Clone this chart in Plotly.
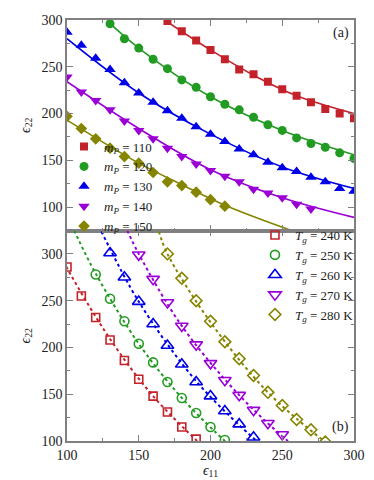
import plotly.graph_objects as go
from plotly.subplots import make_subplots

# ---------------- Panel (a): filled markers + solid fit lines ----------------
mp_labels = ["110", "120", "130", "140", "150"]

a110_x = [170, 180, 190, 200, 210, 220, 230, 240, 250, 260, 270, 280, 290, 300]
a110_y = [299, 288, 278, 268, 258, 247, 242, 234, 226, 219, 212, 205, 200, 195]
a120_x = [130, 140, 150, 160, 170, 180, 190, 200, 210, 220, 230, 240, 250, 260, 270, 280, 290, 300]
a120_y = [296, 280, 270, 258, 248, 236, 228, 218, 210, 204, 196, 188, 182, 174, 168, 164, 158, 152]
a130_x = [100, 110, 120, 130, 140, 150, 160, 170, 180, 190, 200, 210, 220, 230, 240, 250, 260, 270, 280, 290, 300]
a130_y = [287, 273, 259, 247, 233, 222, 212, 203, 195, 186, 178, 170, 162, 156, 148, 142, 138, 132, 127, 120, 117]
a140_x = [100, 110, 120, 130, 140, 150, 160, 170, 180, 190, 200, 210, 220, 230, 240, 250, 260, 270]
a140_y = [239, 223, 214, 204, 192, 182, 173, 163, 154, 146, 139, 133, 127, 119, 115, 110, 103, 98]
a150_x = [100, 110, 120, 130, 140, 150, 160, 170, 180, 190, 200, 210]
a150_y = [197, 184, 173, 163, 154, 147, 137, 127, 123, 116, 108, 101]

fa110_x = [168, 200, 230, 260, 300]
fa110_y = [300, 268, 241, 219, 200]
fa120_x = [128, 150, 200, 250, 300]
fa120_y = [299, 270, 218, 182, 156]
fa130_x = [100, 150, 200, 250, 300]
fa130_y = [280, 222, 178, 143, 120]
fa140_x = [100, 150, 200, 250, 300]
fa140_y = [234, 184, 140, 110, 89]
fa150_x = [100, 150, 180, 210, 260]
fa150_y = [193, 147, 124, 102, 73]

# ---------------- Panel (b): open markers + dotted fit lines ----------------
tg_labels = ["240", "250", "260", "270", "280"]

b240_x = [100, 110, 120, 130, 140, 150, 160, 170, 180, 190]
b240_y = [286, 255, 232, 208, 186, 166, 148, 131, 115, 102]
b250_x = [120, 130, 140, 150, 160, 170, 180, 190, 200, 210]
b250_y = [278, 252, 228, 204, 184, 163, 146, 130, 115, 101]
b260_x = [130, 140, 150, 160, 170, 180, 190, 200, 210, 220, 230]
b260_y = [301, 275, 249, 225, 202, 182, 163, 148, 132, 118, 104]
b270_x = [150, 160, 170, 180, 190, 200, 210, 220, 230, 240, 250]
b270_y = [299, 273, 248, 223, 203, 183, 165, 149, 133, 119, 107]
b280_x = [170, 180, 190, 200, 210, 220, 230, 240, 250, 260, 270, 280]
b280_y = [300, 274, 250, 228, 206, 188, 170, 152, 138, 123, 112, 99]

fb240_x = [96, 100, 130, 160, 190, 195]
fb240_y = [298, 285, 209, 148, 101, 94]
fb250_x = [105, 120, 150, 180, 210, 213]
fb250_y = [325, 279, 204, 146, 100, 96]
fb260_x = [124, 150, 190, 230, 235]
fb260_y = [324, 249, 164, 103, 97]
fb270_x = [142, 150, 180, 220, 254, 258]
fb270_y = [325, 300, 223, 149, 100, 96]
fb280_x = [164, 170, 200, 240, 280, 284]
fb280_y = [324, 300, 227, 152, 99, 95]

colors = ["#c4222b", "#229b22", "#0000e6", "#9a00d6", "#858500"]
fill_symbols = ["square", "circle", "triangle-up", "triangle-down", "diamond"]
fill_sizes = [8, 9, 10, 10, 9]
open_symbols = ["square-open", "circle-open", "triangle-up-open", "triangle-down-open", "diamond-open"]
open_sizes = [8, 9, 11, 11, 9]

a_pts = [(a110_x, a110_y), (a120_x, a120_y), (a130_x, a130_y), (a140_x, a140_y), (a150_x, a150_y)]
a_fit = [(fa110_x, fa110_y), (fa120_x, fa120_y), (fa130_x, fa130_y), (fa140_x, fa140_y), (fa150_x, fa150_y)]
b_pts = [(b240_x, b240_y), (b250_x, b250_y), (b260_x, b260_y), (b270_x, b270_y), (b280_x, b280_y)]
b_fit = [(fb240_x, fb240_y), (fb250_x, fb250_y), (fb260_x, fb260_y), (fb270_x, fb270_y), (fb280_x, fb280_y)]

FONT = "Liberation Serif"
AX = "#808080"
TXT = "#222222"

fig = make_subplots(rows=2, cols=1, shared_xaxes=True, vertical_spacing=0)

for i in range(5):
    fx, fy = a_fit[i]
    fig.add_trace(go.Scatter(x=fx, y=fy, mode="lines", line=dict(color=colors[i], width=1.6, shape="spline"),
                             showlegend=False, hoverinfo="skip"), row=1, col=1)
for i in range(5):
    px, py = a_pts[i]
    fig.add_trace(go.Scatter(x=px, y=py, mode="markers",
                             marker=dict(symbol=fill_symbols[i], size=fill_sizes[i], color=colors[i]),
                             name="<i>m</i><sub><i>P</i></sub> = " + mp_labels[i], legend="legend"),
                  row=1, col=1)

for i in range(5):
    fx, fy = b_fit[i]
    fig.add_trace(go.Scatter(x=fx, y=fy, mode="lines", line=dict(color=colors[i], width=2, dash="dot", shape="spline"),
                             showlegend=False, hoverinfo="skip"), row=2, col=1)
for i in range(5):
    px, py = b_pts[i]
    fig.add_trace(go.Scatter(x=px, y=py, mode="markers",
                             marker=dict(symbol=open_symbols[i], size=open_sizes[i], color=colors[i],
                                         line=dict(width=1.6, color=colors[i])),
                             name="<i>T</i><sub><i>g</i></sub> = " + tg_labels[i] + " K", legend="legend2"),
                  row=2, col=1)

axis_common = dict(showline=True, linecolor=AX, linewidth=1.5, mirror="ticks", ticks="inside",
                   ticklen=6, tickcolor=AX, tickwidth=1, showgrid=False, zeroline=False,
                   tickfont=dict(family=FONT, size=14, color=TXT))
minor_common = dict(ticks="inside", dtick=25, ticklen=3, tickcolor=AX)

fig.update_xaxes(range=[100, 300], dtick=50, tick0=100, minor=minor_common, **axis_common)
fig.update_xaxes(showticklabels=False, row=1, col=1)
fig.update_xaxes(title=dict(text="<i>ϵ</i><sub>11</sub>", font=dict(family=FONT, size=14, color=TXT),
                            standoff=2), row=2, col=1)

fig.update_yaxes(range=[75, 300], dtick=50, tick0=100, minor=minor_common,
                 title=dict(text="<i>ϵ</i><sub>22</sub>", font=dict(family=FONT, size=14, color=TXT), standoff=8),
                 row=1, col=1, **axis_common)
fig.update_yaxes(range=[100, 325], dtick=50, tick0=100, minor=minor_common,
                 title=dict(text="<i>ϵ</i><sub>22</sub>", font=dict(family=FONT, size=14, color=TXT), standoff=8),
                 row=2, col=1, **axis_common)

fig.add_annotation(text="(a)", xref="x domain", yref="y domain", x=0.99, y=0.985, xanchor="right", yanchor="top",
                   showarrow=False, font=dict(family=FONT, size=14, color=TXT), row=1, col=1)
fig.add_annotation(text="(b)", xref="x domain", yref="y domain", x=0.99, y=0.02, xanchor="right", yanchor="bottom",
                   showarrow=False, font=dict(family=FONT, size=14, color=TXT), row=2, col=1)

fig.update_layout(
    width=374, height=480,
    margin=dict(l=59, r=28, t=12, b=47, autoexpand=False),
    paper_bgcolor="white", plot_bgcolor="white",
    font=dict(family=FONT, size=14, color=TXT),
    legend=dict(x=-0.0104, y=0.735, xanchor="left", yanchor="top", bgcolor="rgba(0,0,0,0)",
                font=dict(family=FONT, size=13, color=TXT), tracegroupgap=0, itemwidth=30),
    legend2=dict(x=0.655, y=0.525, xanchor="left", yanchor="top", bgcolor="rgba(0,0,0,0)",
                 font=dict(family=FONT, size=13, color=TXT), tracegroupgap=0, itemwidth=30),
)

fig.write_html("out.html")
